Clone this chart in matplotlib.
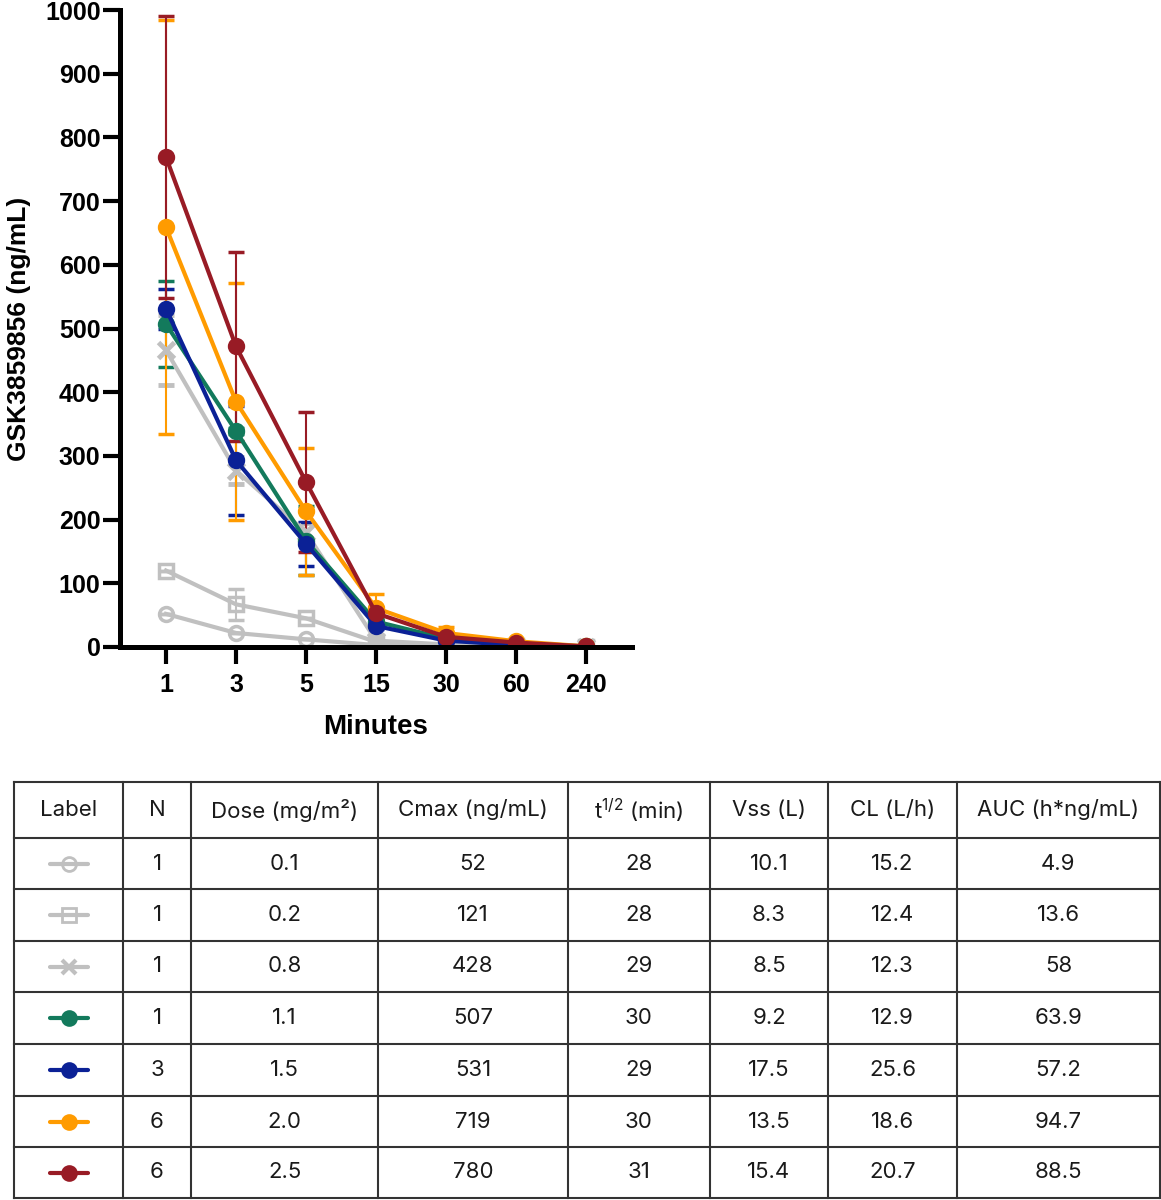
import matplotlib.pyplot as plt
import numpy as np

plt.rcParams['font.family'] = ['Liberation Sans', 'DejaVu Sans']

minutes = ['1', '3', '5', '15', '30', '60', '240']

# mean concentration (ng/mL) per dose group
conc_01 = [52, 22, 12, 3, 1, 0.5, 0.2]
conc_02 = [120, 67, 45, 8, 3, 1, 0.5]
conc_08 = [466, 277, 180, 10, 4, 2, 0.5]
conc_11 = [507, 339, 167, 40, 13, 5, 1]
conc_15 = [531, 293, 162, 33, 10, 3, 0.5]
conc_20 = [659, 385, 213, 61, 22, 9, 1]
conc_25 = [769, 472, 259, 53, 16, 7, 1]

# error bar half-widths
err_01 = [0, 0, 0, 0, 0, 0, 0]
err_02 = [0, 24, 0, 3, 1, 0, 0]
err_08 = [55, 21, 15, 3, 1, 0, 0]
err_11 = [68, 5, 54, 5, 2, 1, 0]
err_15 = [31, 86, 35, 5, 2, 1, 0]
err_20 = [325, 186, 100, 22, 10, 3, 0]
err_25 = [221, 148, 110, 10, 5, 2, 0]

gray = '#c0c0c0'
green = '#137a5c'
blue = '#0b2196'
orange = '#ff9b00'
red = '#981b25'

series = [
    (conc_01, err_01, gray, 'o', 'none'),
    (conc_02, err_02, gray, 's', 'none'),
    (conc_08, err_08, gray, 'x', 'full'),
    (conc_11, err_11, green, 'o', 'full'),
    (conc_15, err_15, blue, 'o', 'full'),
    (conc_20, err_20, orange, 'o', 'full'),
    (conc_25, err_25, red, 'o', 'full'),
]

# table contents
col_heads = ['Label', 'N', 'Dose (mg/m²)', 'Cmax (ng/mL)', r't$^{\mathregular{1/2}}$ (min)',
             'Vss (L)', 'CL (L/h)', 'AUC (h*ng/mL)']
n_vals = ['1', '1', '1', '1', '3', '6', '6']
doses = ['0.1', '0.2', '0.8', '1.1', '1.5', '2.0', '2.5']
cmax = ['52', '121', '428', '507', '531', '719', '780']
half_life = ['28', '28', '29', '30', '29', '30', '31']
vss = ['10.1', '8.3', '8.5', '9.2', '17.5', '13.5', '15.4']
cl = ['15.2', '12.4', '12.3', '12.9', '25.6', '18.6', '20.7']
auc = ['4.9', '13.6', '58', '63.9', '57.2', '94.7', '88.5']

W, H = 1161, 1200
fig = plt.figure(figsize=(W / 100, H / 100), dpi=100)

ax = fig.add_axes([120 / W, 1 - 647 / H, (632 - 120) / W, (647 - 10) / H])
x = np.arange(len(minutes))
for vals, err, col, mk, fs in series:
    if mk == 'x':
        ax.errorbar(x, vals, yerr=err, color=col, lw=3, marker='x', ms=12, mew=3.5,
                    ecolor=col, elinewidth=1.5, capsize=6, capthick=1.5)
    else:
        ax.errorbar(x, vals, yerr=err, color=col, lw=3, marker=mk, ms=10,
                    fillstyle=fs, mew=2.5, ecolor=col, elinewidth=1.5,
                    capsize=6, capthick=1.5)

ax.set_xlim(-0.657, 6.657)
ax.set_ylim(0, 1000)
ax.set_yticks(range(0, 1001, 100))
ax.set_xticks(x)
ax.set_xticklabels(minutes)
for s in ['top', 'right']:
    ax.spines[s].set_visible(False)
for s in ['left', 'bottom']:
    ax.spines[s].set_linewidth(3.6)
ax.tick_params(length=12, width=3, direction='out', labelsize=18)
ax.tick_params(axis='y', pad=2)
ax.tick_params(axis='x', pad=7)
for lab in ax.get_xticklabels() + ax.get_yticklabels():
    lab.set_fontweight('bold')
ax.set_ylabel('GSK3859856 (ng/mL)', fontsize=19, fontweight='bold', labelpad=10)
ax.set_xlabel('Minutes', fontsize=20, fontweight='bold', labelpad=12)

# table
tx = fig.add_axes([0, 0, 1, 1])
tx.set_xlim(0, W)
tx.set_ylim(H, 0)
tx.axis('off')
col_x = [14, 123, 191, 378, 568, 710, 828, 957, 1160]
row_y = [782, 838, 889, 941, 992, 1044, 1096, 1147, 1198]
for cx in col_x:
    tx.plot([cx, cx], [row_y[0], row_y[-1]], color='#333333', lw=1.5)
for ry in row_y:
    tx.plot([col_x[0], col_x[-1]], [ry, ry], color='#333333', lw=1.5)

tfont = dict(family=['Inter', 'DejaVu Sans'], fontsize=16, ha='center', va='center',
             color='#1a1a1a')
for j, h in enumerate(col_heads):
    tx.text((col_x[j] + col_x[j + 1]) / 2, (row_y[0] + row_y[1]) / 2, h, **tfont)

cols = [n_vals, doses, cmax, half_life, vss, cl, auc]
for i in range(7):
    cy = (row_y[i + 1] + row_y[i + 2]) / 2
    for j, c in enumerate(cols):
        tx.text((col_x[j + 1] + col_x[j + 2]) / 2, cy, c[i], **tfont)
    _, _, col, mk, fs = series[i]
    cx = (col_x[0] + col_x[1]) / 2
    tx.plot([cx - 19, cx + 19], [cy, cy], color=col, lw=3, solid_capstyle='round')
    if mk == 'x':
        tx.plot([cx], [cy], marker='x', color=col, ms=10, mew=3)
    else:
        tx.plot([cx], [cy], marker=mk, color=col, ms=10, fillstyle=fs, mew=2,
                markerfacecolor='white' if fs == 'none' else col)

fig.savefig('out.png', dpi=100)
